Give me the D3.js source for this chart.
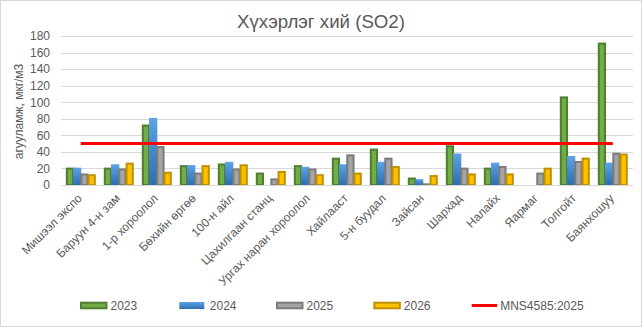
<!DOCTYPE html>
<html>
<head>
<meta charset="utf-8">
<script src="https://cdn.jsdelivr.net/npm/d3@7"></script>
<style>
html,body{margin:0;padding:0;background:#fff;}
svg{display:block;font-family:"Liberation Sans",Arial,sans-serif;}
</style>
</head>
<body>
<svg id="chart" width="644" height="328"></svg>
<script>
const categories = ["Мишээл экспо","Баруун 4-н зам","1-р хороолол","Бөхийн өргөө","100-н айл","Цахилгаан станц","Ургах наран хороолол","Хайлааст","5-н буудал","Зайсан","Шархад","Налайх","Яармаг","Толгойт","Баянхошуу"];
const seriesNames = ["2023","2024","2025","2026"];
const v2023 = [21,21,73,24,26,15,24,33,44,9,48,21,null,107,172];
const v2024 = [21,25,81,24,28,null,22,25,28,7,38,27,null,35,27];
const v2025 = [14,20,47,15,20,8,20,37,33,2,21,23,15,29,39];
const v2026 = [13,27,16,24,25,17,13,15,23,12,14,14,21,33,38];
const standardName = "MNS4585:2025";
const standardValue = 50;
const yTicks = [0,20,40,60,80,100,120,140,160,180];
const titleText = "Хүхэрлэг хий (SO2)";
const yTitle = "агууламж, мкг/м3";

const seriesValues = [v2023, v2024, v2025, v2026];
const styles = [
  {fill:"#70ad47", stroke:"#507e32"},
  {fill:"url(#blueGrad)", stroke:"none"},
  {fill:"#a5a5a5", stroke:"#7b7b7b"},
  {fill:"#ffc000", stroke:"#bf9000"}
];

const svg = d3.select("#chart");
const defs = svg.append("defs");
const g1 = defs.append("linearGradient").attr("id","blueGrad").attr("x1",0).attr("y1",0).attr("x2",0).attr("y2",1);
g1.append("stop").attr("offset","0%").attr("stop-color","#5ba3e6");
g1.append("stop").attr("offset","100%").attr("stop-color","#2e6eae");

svg.append("rect").attr("x",0.5).attr("y",0.5).attr("width",641).attr("height",326)
  .attr("fill","#fff").attr("stroke","#d9d9d9");

const x0 = d3.scaleBand().domain(categories).range([61.8, 631.8]).padding(0);
const groupW = 29;
const x1 = d3.scaleBand().domain(seriesNames).range([(x0.bandwidth()-groupW)/2, (x0.bandwidth()+groupW)/2]).padding(0);
const y = d3.scaleLinear().domain([0,180]).range([185,36]);

// gridlines
svg.append("g").selectAll("line").data(yTicks).join("line")
  .attr("x1",61).attr("x2",633)
  .attr("y1",d=>Math.round(y(d))+0.5).attr("y2",d=>Math.round(y(d))+0.5)
  .attr("stroke","#d9d9d9").attr("stroke-width",1);

// y axis labels
const yAxis = d3.axisLeft(y).tickValues(yTicks).tickSize(0).tickPadding(0);
const ya = svg.append("g").attr("transform","translate(50,0)").call(yAxis);
ya.select(".domain").remove();
ya.selectAll("text").attr("fill","#595959").attr("font-size","12px")
  .attr("font-family","'Liberation Sans',Arial,sans-serif");

// bars
seriesValues.forEach((vals, si) => {
  const name = seriesNames[si];
  const st = styles[si];
  const data = categories.map((c,i)=>({c, v: vals[i]})).filter(d=>d.v!==null && d.v>0);
  svg.append("g").selectAll("rect").data(data).join("rect")
    .attr("x", d => x0(d.c) + x1(name) + (st.stroke==="none" ? -0.5 : 0.5))
    .attr("width", x1.bandwidth() + (st.stroke==="none" ? 1 : -1))
    .attr("y", d => y(d.v) + (st.stroke==="none" ? 0 : 1))
    .attr("height", d => y(0) - y(d.v) - (st.stroke==="none" ? 0 : 1))
    .attr("fill", st.fill)
    .attr("stroke", st.stroke)
    .attr("stroke-width", 2);
});

// x axis line
svg.append("line").attr("x1",61).attr("x2",633).attr("y1",185.5).attr("y2",185.5).attr("stroke","#d9d9d9");

// standard line
svg.append("line")
  .attr("x1", x0(categories[0]) + x0.bandwidth()/2)
  .attr("x2", x0(categories[categories.length-1]) + x0.bandwidth()/2)
  .attr("y1", y(standardValue)).attr("y2", y(standardValue))
  .attr("stroke","#ff0000").attr("stroke-width",3);

// x labels
svg.append("g").selectAll("text").data(categories).join("text")
  .attr("transform", d => `translate(${x0(d)+x0.bandwidth()/2 - 1},196) rotate(-45)`)
  .attr("text-anchor","end").attr("dy","0.35em")
  .attr("font-size","12px").attr("fill","#595959")
  .text(d=>d);

// title
svg.append("text").attr("x",321).attr("y",28).attr("text-anchor","middle")
  .attr("font-size","18.67px").attr("fill","#595959").text(titleText);

// y title
svg.append("text").attr("transform","translate(23,111.5) rotate(-90)")
  .attr("text-anchor","middle").attr("font-size","12px").attr("fill","#595959").text(yTitle);

// legend
const legX = [80, 179.3, 276, 373.3, 471.7];
const legY = 305.5;
seriesNames.forEach((name, si) => {
  const st = styles[si];
  const lg = svg.append("g");
  if (st.stroke === "none") {
    lg.append("rect").attr("x",legX[si]).attr("y",legY-3.5).attr("width",25).attr("height",7).attr("fill",st.fill);
  } else {
    lg.append("rect").attr("x",legX[si]+1).attr("y",legY-2.8).attr("width",25.5).attr("height",5.6)
      .attr("fill",st.fill).attr("stroke",st.stroke).attr("stroke-width",2);
  }
  lg.append("text").attr("x",legX[si]+30.5).attr("y",legY).attr("dy","0.35em")
    .attr("font-size","12px").attr("fill","#595959").text(name);
});
svg.append("line").attr("x1",legX[4]).attr("x2",legX[4]+25.5).attr("y1",legY).attr("y2",legY)
  .attr("stroke","#ff0000").attr("stroke-width",3);
svg.append("text").attr("x",legX[4]+28.5).attr("y",legY).attr("dy","0.35em")
  .attr("font-size","12px").attr("fill","#595959").text(standardName);
</script>
</body>
</html>
